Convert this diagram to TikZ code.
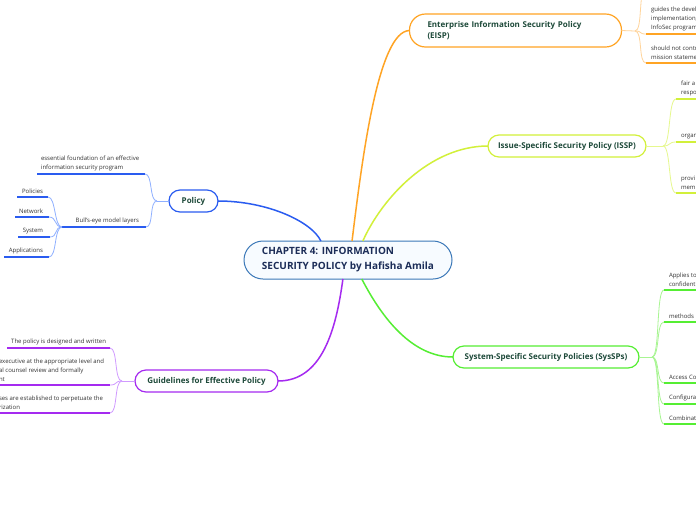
\documentclass[tikz,border=0pt]{standalone}
\usepackage{fontspec}
\setmainfont{Open Sans}
\definecolor{cmain}{HTML}{3B78B8}
\definecolor{cfill}{HTML}{F7FBFF}
\definecolor{cnavy}{HTML}{1C2D58}
\definecolor{cdark}{HTML}{1E4A3A}
\definecolor{ctext}{HTML}{333333}
\definecolor{cblue}{HTML}{2A5CF0}
\definecolor{cblueL}{HTML}{8FB0FF}
\definecolor{cpurple}{HTML}{A52AF0}
\definecolor{cpurpleL}{HTML}{D09AFF}
\definecolor{corange}{HTML}{FFA424}
\definecolor{corangeL}{HTML}{FFD49A}
\definecolor{cyellow}{HTML}{D2F03A}
\definecolor{cyellowL}{HTML}{E6F88E}
\definecolor{cgreen}{HTML}{55EE33}
\definecolor{cgreenL}{HTML}{A8F592}
\begin{document}
\begin{tikzpicture}[x=1pt,y=-1pt,
  every node/.style={inner sep=0pt, outer sep=0pt},
  central/.style={draw=cmain, fill=cfill, line width=1pt, rounded corners=19pt,
    minimum width=208pt, minimum height=38pt,
    font=\fontsize{10}{15}\selectfont\bfseries, text=cnavy, align=left},
  branch/.style={fill=white, line width=1.2pt, minimum height=22pt, rounded corners=11pt,
    font=\fontsize{8}{11}\selectfont\bfseries, text=cdark},
  item/.style={font=\fontsize{6}{9}\selectfont, text=ctext},
  itemL/.style={item, anchor=south west, align=left},
  itemR/.style={item, anchor=south east, align=right},
  uline/.style={line width=1.6pt},
  thinline/.style={line width=0.8pt},
  mainline/.style={line width=1.5pt},
]
\useasboundingbox (0,0) rectangle (696,520);
\begin{scope}
\clip (0,0) rectangle (696,520);
\fill[white] (0,0) rectangle (696,520);

% ---------- main nodes ----------
\node[central] (C) at (348,260) {CHAPTER 4: INFORMATION\\SECURITY POLICY by Hafisha Amila};
\node[branch, draw=cblue, minimum width=49pt] (P) at (193.5,201) {Policy};
\node[branch, draw=cpurple, minimum width=143pt] (G) at (206.5,381) {Guidelines for Effective Policy};
\node[branch, draw=corange, minimum width=212pt, minimum height=33pt, rounded corners=16pt,
      text width=176pt, align=left] (E) at (515.5,30.5) {Enterprise Information Security Policy\\(EISP)};
\node[branch, draw=cyellow, minimum width=158pt] (I) at (567,146) {Issue-Specific Security Policy (ISSP)};
\node[branch, draw=cgreen, minimum width=186pt] (S) at (546,357) {System-Specific Security Policies (SysSPs)};

% ---------- main connectors ----------
\draw[mainline, cblue] (C.145) .. controls (312,222) and (268,201) .. (P.east);
\draw[mainline, corange] (C.78) .. controls (362,160) and (378,31) .. (E.west);
\draw[mainline, cyellow] (C.52) .. controls (382,198) and (430,146) .. (I.west);
\draw[mainline, cgreen] (C.306) .. controls (382,318) and (412,357) .. (S.west);
\draw[mainline, cpurple] (C.255) .. controls (336,330) and (322,381) .. (G.east);

% ---------- Policy ----------
\coordinate (jP) at (157,201);
\coordinate (p1a) at (37,174);  \coordinate (p1b) at (145,174);
\coordinate (p2a) at (62,227);  \coordinate (p2b) at (146,227);
\draw[thinline, cblueL] (P.west) -- (jP);
\draw[thinline, cblueL] (jP) .. controls +(-8,0) and +(8,0) .. (p1b);
\draw[thinline, cblueL] (jP) .. controls +(-8,0) and +(8,0) .. (p2b);
\draw[uline, cblue] (p1a) -- (p1b);
\draw[uline, cblue] (p2a) -- (p2b);
\node[itemL] (p1t) at (41,171) {essential foundation of an effective\\information security program};
\node[itemR] (p2t) at (139,224) {Bull's-eye model layers};

\coordinate (b1a) at (17,197); \coordinate (b1b) at (48,197);
\coordinate (b2a) at (15,217); \coordinate (b2b) at (49,217);
\coordinate (b3a) at (18,237); \coordinate (b3b) at (50,237);
\coordinate (b4a) at (4,257);  \coordinate (b4b) at (49,257);
\foreach \k in {1,2,3,4}{
  \draw[thinline, cblueL] (p2a) .. controls +(-8,0) and +(8,0) .. (b\k b);
  \draw[uline, cblue] (b\k a) -- (b\k b);
}
\node[itemR] (b1t) at (43,194) {Policies};
\node[itemR] (b2t) at (43,214) {Network};
\node[itemR] (b3t) at (43,234) {System};
\node[itemR] (b4t) at (43,254) {Applications};

% ---------- Guidelines ----------
\coordinate (jG) at (122,381);
\coordinate (g1a) at (7,348);  \coordinate (g1b) at (110,348);
\coordinate (g2a) at (-5,385); \coordinate (g2b) at (110,385);
\coordinate (g3a) at (-5,413); \coordinate (g3b) at (110,413);
\draw[thinline, cpurpleL] (G.west) -- (jG);
\foreach \k in {1,2,3}{
  \draw[thinline, cpurpleL] (jG) .. controls +(-8,0) and +(8,0) .. (g\k b);
  \draw[uline, cpurple] (g\k a) -- (g\k b);
}
\node[itemR] (g1t) at (106,345) {The policy is designed and written};
\node[itemL] (g2t) at (-1,382) {executive at the appropriate level and\\al counsel review and formally\\nt};
\node[itemL] (g3t) at (-1,410) {ses are established to perpetuate the\\rization};

% ---------- EISP ----------
\coordinate (jE) at (635,31);
\coordinate (e0a) at (646,-12); \coordinate (e0b) at (700,-12);
\coordinate (e1a) at (646,34);  \coordinate (e1b) at (700,34);
\coordinate (e2a) at (646,63);  \coordinate (e2b) at (700,63);
\draw[thinline, corangeL] (E.east) -- (jE);
\foreach \k in {0,1,2}{
  \draw[thinline, corangeL] (jE) .. controls +(8,0) and +(-8,0) .. (e\k a);
  \draw[uline, corange] (e\k a) -- (e\k b);
}
\node[itemL] (e1t) at (651,31) {guides the devel\\implementation,\\InfoSec program};
\node[itemL] (e2t) at (651,60) {should not contr\\mission stateme};

% ---------- ISSP ----------
\coordinate (jI) at (663,146);
\coordinate (i1a) at (676,99);  \coordinate (i1b) at (700,99);
\coordinate (i2a) at (676,142); \coordinate (i2b) at (700,142);
\coordinate (i3a) at (676,193); \coordinate (i3b) at (700,193);
\draw[thinline, cyellowL] (I.east) -- (jI);
\foreach \k in {1,2,3}{
  \draw[thinline, cyellowL] (jI) .. controls +(8,0) and +(-8,0) .. (i\k a);
  \draw[uline, cyellow] (i\k a) -- (i\k b);
}
\node[itemL] (i1t) at (681,96) {fair a\\respo};
\node[itemL] (i2t) at (681,139) {organ};
\node[itemL] (i3t) at (681,190) {provi\\memb};

% ---------- SysSP ----------
\coordinate (jS) at (652,357);
\coordinate (s1a) at (664,290); \coordinate (s1b) at (700,290);
\coordinate (s2a) at (664,322); \coordinate (s2b) at (700,322);
\coordinate (s3a) at (664,383); \coordinate (s3b) at (700,383);
\coordinate (s4a) at (664,404); \coordinate (s4b) at (700,404);
\coordinate (s5a) at (664,424); \coordinate (s5b) at (700,424);
\draw[thinline, cgreenL] (S.east) -- (jS);
\foreach \k in {1,2,3,4,5}{
  \draw[thinline, cgreenL] (jS) .. controls +(8,0) and +(-8,0) .. (s\k a);
  \draw[uline, cgreen] (s\k a) -- (s\k b);
}
\node[itemL] (s1t) at (669,287) {Applies to\\confidenti};
\node[itemL] (s2t) at (669,319) {methods};
\node[itemL] (s3t) at (669,380) {Access Co};
\node[itemL] (s4t) at (669,401) {Configura};
\node[itemL] (s5t) at (669,421) {Combinat};
\end{scope}
\end{tikzpicture}
\end{document}
